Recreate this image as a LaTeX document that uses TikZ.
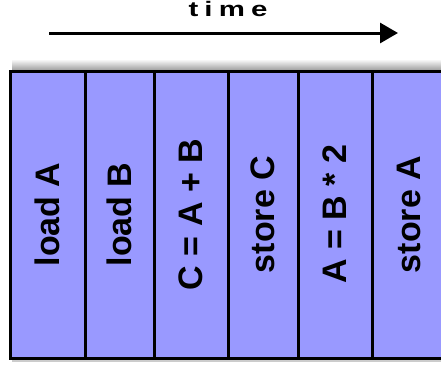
\documentclass[tikz,border=0pt]{standalone}
\usepackage{fontspec}
\setsansfont{Liberation Sans}
\newfontfamily\timefont{Liberation Sans}[LetterSpace=21]
\usepackage{tikz}
\usetikzlibrary{positioning, arrows.meta}

\begin{document}
\begin{tikzpicture}[
    x=1pt, y=-1pt,
    >=Triangle,
]

% ── Colors ──
\definecolor{stagefill}{HTML}{9999FF}
\definecolor{stageborder}{HTML}{000000}

\tikzset{
    stage/.style={rectangle, draw=stageborder, fill=stagefill, line width=3pt,
        outer sep=0pt, inner sep=0pt, minimum height=287pt,
        font=\sffamily\bfseries\fontsize{34}{34}\selectfont},
}

\useasboundingbox (0,0) rectangle (441,383);

% ══════════════════════════════════════════════
% Time axis
% ══════════════════════════════════════════════
\node[font=\timefont\bfseries\fontsize{21}{21}\selectfont, anchor=base, inner sep=0pt]
    (timelabel) at (228,16.5) {\scalebox{1.4}[1]{time}};
\coordinate (tstart) at (49,33);
\coordinate (tend) at (398,33);
\draw[-{Triangle[length=18pt, width=20pt]}, line width=3pt] (tstart) -- (tend);

% ══════════════════════════════════════════════
% Shadow
% ══════════════════════════════════════════════
\shade[top color=white, bottom color=gray!75] (12,59) rectangle (445,70);
\draw[gray!40, line width=2pt] (12,361) -- (445,361);

% ══════════════════════════════════════════════
% Pipeline stages
% ══════════════════════════════════════════════
\node[stage, minimum width=75pt, anchor=north west] (loada) at (10,71)
    {\rotatebox{90}{load A}};
\node[stage, minimum width=69pt, right=0pt of loada] (loadb)
    {\rotatebox{90}{load B}};
\node[stage, minimum width=74pt, right=0pt of loadb] (add)
    {\rotatebox{90}{C = A + B}};
\node[stage, minimum width=70pt, right=0pt of add] (storec)
    {\rotatebox{90}{store C}};
\node[stage, minimum width=74pt, right=0pt of storec] (mul)
    {\rotatebox{90}{A = B * 2}};
\node[stage, minimum width=73pt, right=0pt of mul] (storea)
    {\rotatebox{90}{store A}};

\end{tikzpicture}
\end{document}
